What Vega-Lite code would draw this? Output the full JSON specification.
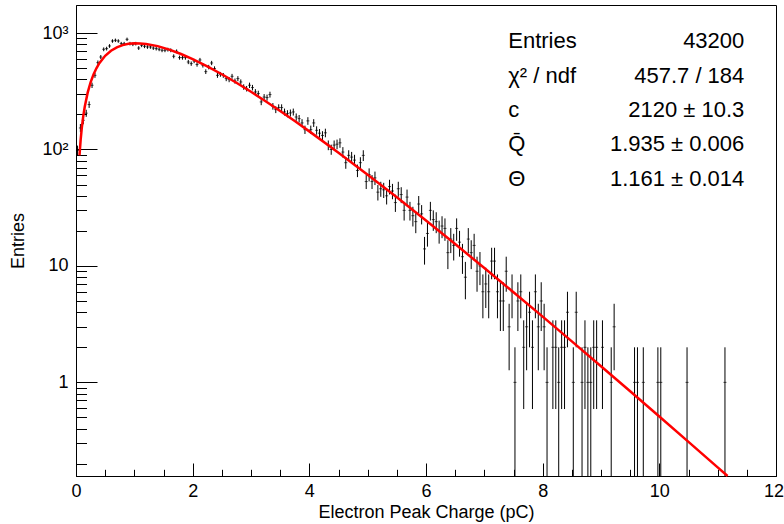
{
  "$schema": "https://vega.github.io/schema/vega-lite/v6.json",
  "width": 700,
  "height": 471,
  "autosize": "none",
  "padding": {"left": 76, "top": 5, "right": 8, "bottom": 48},
  "background": "white",
  "config": {
    "view": {"stroke": "black", "strokeWidth": 1},
    "font": "Liberation Sans",
    "axis": {
      "grid": false,
      "domainColor": "black",
      "tickColor": "black",
      "labelColor": "black",
      "titleColor": "black",
      "labelFont": "Liberation Sans",
      "titleFont": "Liberation Sans",
      "labelFontSize": 18,
      "titleFontSize": 18,
      "titleFontWeight": "normal",
      "tickWidth": 1,
      "domainWidth": 1
    }
  },
  "datasets": {
    "hist": [
      {"q": 0.025, "n": 98, "e": 9.9},
      {"q": 0.075, "n": 153, "e": 12.37},
      {"q": 0.125, "n": 178, "e": 13.34},
      {"q": 0.175, "n": 205, "e": 14.32},
      {"q": 0.225, "n": 243, "e": 15.59},
      {"q": 0.275, "n": 356, "e": 18.87},
      {"q": 0.325, "n": 433, "e": 20.81},
      {"q": 0.375, "n": 557, "e": 23.6},
      {"q": 0.425, "n": 622, "e": 24.94},
      {"q": 0.475, "n": 725, "e": 26.93},
      {"q": 0.525, "n": 735, "e": 27.11},
      {"q": 0.575, "n": 774, "e": 27.82},
      {"q": 0.625, "n": 854, "e": 29.22},
      {"q": 0.675, "n": 866, "e": 29.43},
      {"q": 0.725, "n": 854, "e": 29.22},
      {"q": 0.775, "n": 811, "e": 28.48},
      {"q": 0.825, "n": 811, "e": 28.48},
      {"q": 0.875, "n": 883, "e": 29.72},
      {"q": 0.925, "n": 811, "e": 28.48},
      {"q": 0.975, "n": 800, "e": 28.28},
      {"q": 1.025, "n": 811, "e": 28.48},
      {"q": 1.075, "n": 743, "e": 27.26},
      {"q": 1.125, "n": 784, "e": 28.0},
      {"q": 1.175, "n": 769, "e": 27.73},
      {"q": 1.225, "n": 759, "e": 27.55},
      {"q": 1.275, "n": 759, "e": 27.55},
      {"q": 1.325, "n": 743, "e": 27.26},
      {"q": 1.375, "n": 735, "e": 27.11},
      {"q": 1.425, "n": 725, "e": 26.93},
      {"q": 1.475, "n": 711, "e": 26.66},
      {"q": 1.525, "n": 711, "e": 26.66},
      {"q": 1.575, "n": 720, "e": 26.83},
      {"q": 1.625, "n": 711, "e": 26.66},
      {"q": 1.675, "n": 631, "e": 25.12},
      {"q": 1.725, "n": 696, "e": 26.38},
      {"q": 1.775, "n": 615, "e": 24.8},
      {"q": 1.825, "n": 615, "e": 24.8},
      {"q": 1.875, "n": 615, "e": 24.8},
      {"q": 1.925, "n": 564, "e": 23.75},
      {"q": 1.975, "n": 546, "e": 23.37},
      {"q": 2.025, "n": 575, "e": 23.98},
      {"q": 2.075, "n": 537, "e": 23.17},
      {"q": 2.125, "n": 587, "e": 24.23},
      {"q": 2.175, "n": 528, "e": 22.98},
      {"q": 2.225, "n": 466, "e": 21.59},
      {"q": 2.275, "n": 510, "e": 22.58},
      {"q": 2.325, "n": 553, "e": 23.52},
      {"q": 2.375, "n": 495, "e": 22.25},
      {"q": 2.425, "n": 433, "e": 20.81},
      {"q": 2.475, "n": 442, "e": 21.02},
      {"q": 2.525, "n": 433, "e": 20.81},
      {"q": 2.575, "n": 406, "e": 20.15},
      {"q": 2.625, "n": 398, "e": 19.95},
      {"q": 2.675, "n": 425, "e": 20.62},
      {"q": 2.725, "n": 387, "e": 19.67},
      {"q": 2.775, "n": 406, "e": 20.15},
      {"q": 2.825, "n": 380, "e": 19.49},
      {"q": 2.875, "n": 344, "e": 18.55},
      {"q": 2.925, "n": 333, "e": 18.25},
      {"q": 2.975, "n": 356, "e": 18.87},
      {"q": 3.025, "n": 340, "e": 18.44},
      {"q": 3.075, "n": 312, "e": 17.66},
      {"q": 3.125, "n": 302, "e": 17.38},
      {"q": 3.175, "n": 256, "e": 16.0},
      {"q": 3.225, "n": 282, "e": 16.79},
      {"q": 3.275, "n": 279, "e": 16.7},
      {"q": 3.325, "n": 296, "e": 17.2},
      {"q": 3.375, "n": 235, "e": 15.33},
      {"q": 3.425, "n": 220, "e": 14.83},
      {"q": 3.475, "n": 229, "e": 15.13},
      {"q": 3.525, "n": 229, "e": 15.13},
      {"q": 3.575, "n": 210, "e": 14.49},
      {"q": 3.625, "n": 203, "e": 14.25},
      {"q": 3.675, "n": 206, "e": 14.35},
      {"q": 3.725, "n": 210, "e": 14.49},
      {"q": 3.775, "n": 190, "e": 13.78},
      {"q": 3.825, "n": 184, "e": 13.56},
      {"q": 3.875, "n": 169, "e": 13.0},
      {"q": 3.925, "n": 148, "e": 12.17},
      {"q": 3.975, "n": 176, "e": 13.27},
      {"q": 4.025, "n": 148, "e": 12.17},
      {"q": 4.075, "n": 169, "e": 13.0},
      {"q": 4.125, "n": 146, "e": 12.08},
      {"q": 4.175, "n": 138, "e": 11.75},
      {"q": 4.225, "n": 132, "e": 11.49},
      {"q": 4.275, "n": 139, "e": 11.79},
      {"q": 4.325, "n": 109, "e": 10.44},
      {"q": 4.375, "n": 100, "e": 10.0},
      {"q": 4.425, "n": 109, "e": 10.44},
      {"q": 4.475, "n": 111, "e": 10.54},
      {"q": 4.525, "n": 114, "e": 10.68},
      {"q": 4.575, "n": 95, "e": 9.75},
      {"q": 4.625, "n": 77, "e": 8.77},
      {"q": 4.675, "n": 89, "e": 9.43},
      {"q": 4.725, "n": 86, "e": 9.27},
      {"q": 4.775, "n": 81, "e": 9.0},
      {"q": 4.825, "n": 66, "e": 8.12},
      {"q": 4.875, "n": 77, "e": 8.77},
      {"q": 4.925, "n": 89, "e": 9.43},
      {"q": 4.975, "n": 53, "e": 7.28},
      {"q": 5.025, "n": 61, "e": 7.81},
      {"q": 5.075, "n": 53, "e": 7.28},
      {"q": 5.125, "n": 57, "e": 7.55},
      {"q": 5.175, "n": 43, "e": 6.56},
      {"q": 5.225, "n": 46, "e": 6.78},
      {"q": 5.275, "n": 45, "e": 6.71},
      {"q": 5.325, "n": 40, "e": 6.32},
      {"q": 5.375, "n": 48, "e": 6.93},
      {"q": 5.425, "n": 44, "e": 6.63},
      {"q": 5.475, "n": 35, "e": 5.92},
      {"q": 5.525, "n": 46, "e": 6.78},
      {"q": 5.575, "n": 41, "e": 6.4},
      {"q": 5.625, "n": 30, "e": 5.48},
      {"q": 5.675, "n": 39, "e": 6.24},
      {"q": 5.725, "n": 30, "e": 5.48},
      {"q": 5.775, "n": 27, "e": 5.2},
      {"q": 5.825, "n": 24, "e": 4.9},
      {"q": 5.875, "n": 34, "e": 5.83},
      {"q": 5.925, "n": 28, "e": 5.29},
      {"q": 5.975, "n": 14, "e": 3.74},
      {"q": 6.025, "n": 19, "e": 4.36},
      {"q": 6.075, "n": 30, "e": 5.48},
      {"q": 6.125, "n": 25, "e": 5.0},
      {"q": 6.175, "n": 24, "e": 4.9},
      {"q": 6.225, "n": 20, "e": 4.47},
      {"q": 6.275, "n": 22, "e": 4.69},
      {"q": 6.325, "n": 21, "e": 4.58},
      {"q": 6.375, "n": 13, "e": 3.61},
      {"q": 6.425, "n": 17, "e": 4.12},
      {"q": 6.475, "n": 15, "e": 3.87},
      {"q": 6.525, "n": 21, "e": 4.58},
      {"q": 6.575, "n": 16, "e": 4.0},
      {"q": 6.625, "n": 12, "e": 3.46},
      {"q": 6.675, "n": 8, "e": 2.83},
      {"q": 6.725, "n": 17, "e": 4.12},
      {"q": 6.775, "n": 13, "e": 3.61},
      {"q": 6.825, "n": 15, "e": 3.87},
      {"q": 6.875, "n": 9, "e": 3.0},
      {"q": 6.925, "n": 10, "e": 3.16},
      {"q": 6.975, "n": 6, "e": 2.45},
      {"q": 7.025, "n": 7, "e": 2.65},
      {"q": 7.075, "n": 6, "e": 2.45},
      {"q": 7.125, "n": 11, "e": 3.32},
      {"q": 7.175, "n": 11, "e": 3.32},
      {"q": 7.225, "n": 6, "e": 2.45},
      {"q": 7.275, "n": 5, "e": 2.24},
      {"q": 7.325, "n": 5, "e": 2.24},
      {"q": 7.375, "n": 9, "e": 3.0},
      {"q": 7.425, "n": 3, "e": 1.73},
      {"q": 7.475, "n": 6, "e": 2.45},
      {"q": 7.525, "n": 1, "e": 1},
      {"q": 7.575, "n": 5, "e": 2.24},
      {"q": 7.625, "n": 6, "e": 2.45},
      {"q": 7.675, "n": 2, "e": 1.41},
      {"q": 7.725, "n": 3, "e": 1.73},
      {"q": 7.775, "n": 4, "e": 2},
      {"q": 7.825, "n": 2, "e": 1.41},
      {"q": 7.875, "n": 6, "e": 2.45},
      {"q": 7.925, "n": 3, "e": 1.73},
      {"q": 7.975, "n": 5, "e": 2.24},
      {"q": 8.025, "n": 3, "e": 1.73},
      {"q": 8.075, "n": 1, "e": 1},
      {"q": 8.175, "n": 2, "e": 1.41},
      {"q": 8.225, "n": 2, "e": 1.41},
      {"q": 8.275, "n": 1, "e": 1},
      {"q": 8.325, "n": 2, "e": 1.41},
      {"q": 8.375, "n": 2, "e": 1.41},
      {"q": 8.425, "n": 4, "e": 2},
      {"q": 8.525, "n": 1, "e": 1},
      {"q": 8.575, "n": 4, "e": 2},
      {"q": 8.675, "n": 1, "e": 1},
      {"q": 8.725, "n": 2, "e": 1.41},
      {"q": 8.775, "n": 1, "e": 1},
      {"q": 8.825, "n": 1, "e": 1},
      {"q": 8.875, "n": 2, "e": 1.41},
      {"q": 8.925, "n": 2, "e": 1.41},
      {"q": 9.025, "n": 2, "e": 1.41},
      {"q": 9.175, "n": 1, "e": 1},
      {"q": 9.225, "n": 3, "e": 1.73},
      {"q": 9.575, "n": 1, "e": 1},
      {"q": 9.625, "n": 1, "e": 1},
      {"q": 9.725, "n": 1, "e": 1},
      {"q": 9.975, "n": 1, "e": 1},
      {"q": 10.025, "n": 1, "e": 1},
      {"q": 10.475, "n": 1, "e": 1},
      {"q": 11.125, "n": 1, "e": 1}
    ],
    "fit": [
      {"q": 0.06, "f": 88.9},
      {"q": 0.08, "f": 121.4},
      {"q": 0.1, "f": 153.8},
      {"q": 0.125, "f": 194},
      {"q": 0.15, "f": 232.9},
      {"q": 0.2, "f": 307.5},
      {"q": 0.25, "f": 376.9},
      {"q": 0.3, "f": 440.4},
      {"q": 0.35, "f": 498.2},
      {"q": 0.4, "f": 550.2},
      {"q": 0.5, "f": 637.5},
      {"q": 0.6, "f": 704.6},
      {"q": 0.7, "f": 753.8},
      {"q": 0.8, "f": 787.1},
      {"q": 0.9, "f": 807.1},
      {"q": 1.0, "f": 815.6},
      {"q": 1.1, "f": 814.6},
      {"q": 1.2, "f": 806.1},
      {"q": 1.4, "f": 771.3},
      {"q": 1.6, "f": 720.2},
      {"q": 1.8, "f": 660.3},
      {"q": 2.0, "f": 596.8},
      {"q": 2.25, "f": 517.6},
      {"q": 2.5, "f": 442.4},
      {"q": 2.75, "f": 373.8},
      {"q": 3.0, "f": 312.7},
      {"q": 3.25, "f": 259.7},
      {"q": 3.5, "f": 214.0},
      {"q": 3.75, "f": 175.4},
      {"q": 4.0, "f": 143.0},
      {"q": 4.5, "f": 93.8},
      {"q": 5.0, "f": 60.6},
      {"q": 5.5, "f": 38.8},
      {"q": 6.0, "f": 24.5},
      {"q": 6.5, "f": 15.4},
      {"q": 7.0, "f": 9.6},
      {"q": 7.5, "f": 5.95},
      {"q": 8.0, "f": 3.67},
      {"q": 8.5, "f": 2.25},
      {"q": 9.0, "f": 1.377},
      {"q": 9.5, "f": 0.839},
      {"q": 10.0, "f": 0.509},
      {"q": 10.5, "f": 0.3084},
      {"q": 11.0, "f": 0.1863},
      {"q": 11.17, "f": 0.1567}
    ]
  },
  "resolve": {"axis": {"x": "independent", "y": "independent"}},
  "layer": [
    {
      "data": {"name": "hist"},
      "mark": {"type": "errorbar", "color": "black", "thickness": 1},
      "encoding": {
        "x": {
          "field": "q", "type": "quantitative",
          "scale": {"domain": [0, 12], "nice": false, "zero": false},
          "axis": {
            "orient": "bottom",
            "values": [0, 2, 4, 6, 8, 10, 12],
            "tickSize": -13,
            "labelPadding": 19,
            "labelFlush": false,
            "labelOverlap": false,
            "labelOffset": {"condition": {"test": "datum.value >= 11.5", "value": -2.5}, "value": 0},
            "format": "d",
            "title": "Electron Peak Charge (pC)",
            "titlePadding": 3
          }
        },
        "y": {
          "field": "n", "type": "quantitative",
          "scale": {"type": "log", "domain": [0.157, 1740], "nice": false, "clamp": true},
          "axis": {
            "orient": "left",
            "values": [1, 10, 100, 1000],
            "tickSize": -21,
            "labelPadding": 29,
            "labelOverlap": false,
            "labelExpr": "datum.value >= 999 ? '10³' : datum.value >= 99 ? '10²' : datum.value >= 9 ? '10' : '1'",
            "title": "Entries",
            "titlePadding": 14
          }
        },
        "yError": {"field": "e"}
      }
    },
    {
      "data": {"name": "hist"},
      "mark": {"type": "tick", "orient": "horizontal", "size": 3, "thickness": 1, "color": "black"},
      "encoding": {
        "x": {
          "field": "q", "type": "quantitative",
          "scale": {"domain": [0, 12], "nice": false, "zero": false},
          "axis": {
            "orient": "bottom",
            "values": [0.5, 1, 1.5, 2.5, 3, 3.5, 4.5, 5, 5.5, 6.5, 7, 7.5, 8.5, 9, 9.5, 10.5, 11, 11.5],
            "tickSize": -6.7,
            "labels": false,
            "domain": false,
            "title": null
          }
        },
        "y": {
          "field": "n", "type": "quantitative",
          "scale": {"type": "log", "domain": [0.157, 1740], "nice": false, "clamp": true},
          "axis": {
            "orient": "left",
            "values": [0.2, 0.3, 0.4, 0.5, 0.6, 0.7, 0.8, 0.9, 2, 3, 4, 5, 6, 7, 8, 9, 20, 30, 40, 50, 60, 70, 80, 90, 200, 300, 400, 500, 600, 700, 800, 900],
            "tickSize": -10.5,
            "labels": false,
            "domain": false,
            "title": null
          }
        }
      }
    },
    {
      "data": {"name": "fit"},
      "mark": {"type": "line", "color": "#ff0000", "strokeWidth": 2.5},
      "encoding": {
        "x": {"field": "q", "type": "quantitative", "scale": {"domain": [0, 12], "nice": false, "zero": false}, "axis": null},
        "y": {"field": "f", "type": "quantitative", "scale": {"type": "log", "domain": [0.157, 1740], "nice": false, "clamp": true}, "axis": null}
      }
    },
    {
      "data": {"values": [{}]},
      "mark": {"type": "text", "align": "left", "baseline": "alphabetic", "fontSize": 22, "lineHeight": 34.35, "font": "Liberation Sans", "color": "black"},
      "encoding": {
        "x": {"datum": 7.41, "axis": null},
        "y": {"datum": 739, "axis": null},
        "text": {"value": ["Entries", "χ² / ndf", "c", "Q̄", "Θ"]}
      }
    },
    {
      "data": {"values": [{}]},
      "mark": {"type": "text", "align": "right", "baseline": "alphabetic", "fontSize": 22, "lineHeight": 34.35, "font": "Liberation Sans", "color": "black"},
      "encoding": {
        "x": {"datum": 11.457, "axis": null},
        "y": {"datum": 739, "axis": null},
        "text": {"value": ["43200", "457.7 / 184", "2120 ± 10.3", "1.935 ± 0.006", "1.161 ± 0.014"]}
      }
    }
  ]
}
